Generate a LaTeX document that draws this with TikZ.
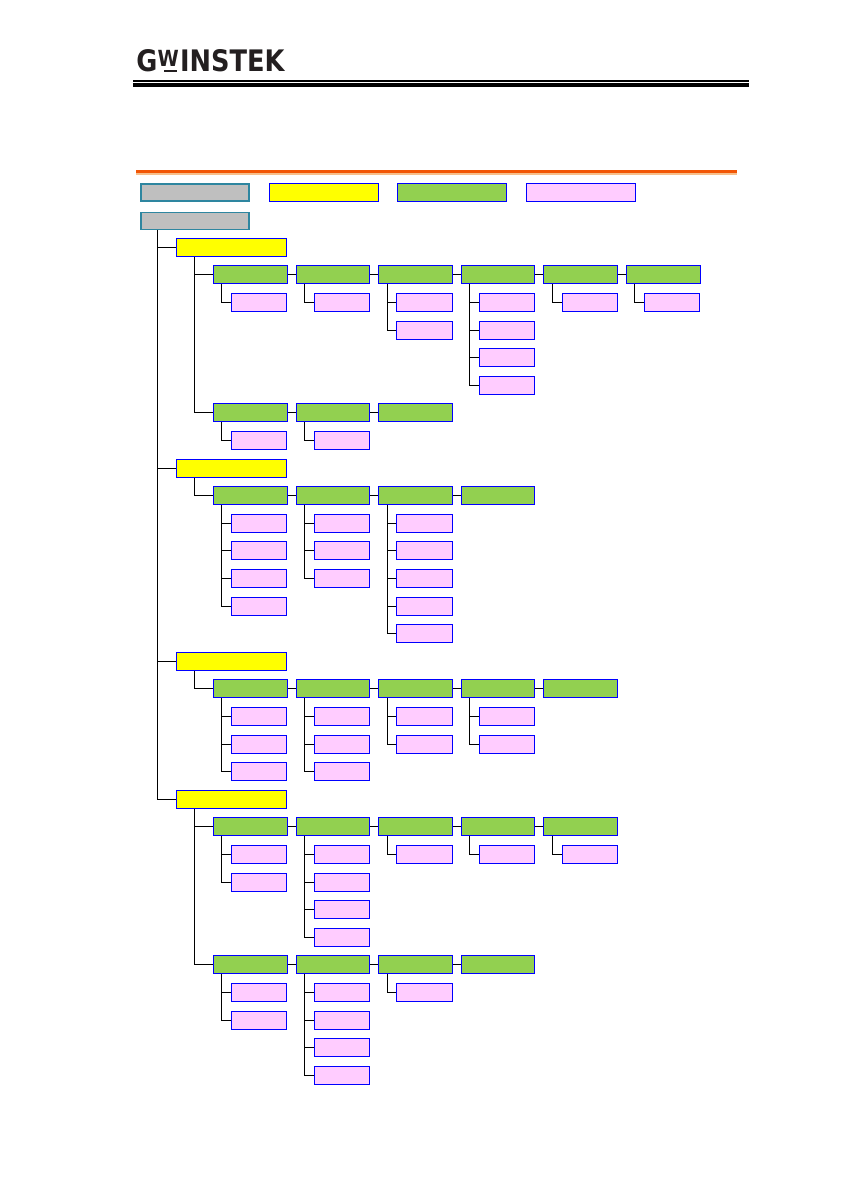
\documentclass[tikz,border=0pt]{standalone}
\usepackage{fontspec}
\usepackage{graphicx}
\setmainfont{DejaVu Sans}
\definecolor{rootfill}{HTML}{BFBFBF}
\definecolor{rootline}{HTML}{2E86A0}
\definecolor{menufill}{HTML}{FFFF00}
\definecolor{itemfill}{HTML}{92D050}
\definecolor{leaffill}{HTML}{FFCCFF}
\definecolor{boxline}{HTML}{0000FF}
\definecolor{ruleorange}{HTML}{F25606}
\definecolor{rulelight}{HTML}{F7C08C}
\definecolor{logoink}{HTML}{231F20}
\tikzset{
    rootbox/.style={draw=rootline, fill=rootfill, line width=1.3pt, minimum width=81.5pt, minimum height=12.6pt, inner sep=0pt},
    menubox/.style={draw=boxline, fill=menufill, line width=0.75pt, minimum width=82.5pt, minimum height=13.5pt, inner sep=0pt},
    itembox/.style={draw=boxline, fill=itemfill, line width=0.75pt, minimum width=55.2pt, minimum height=13.5pt, inner sep=0pt},
    leafbox/.style={draw=boxline, fill=leaffill, line width=0.75pt, minimum width=41.4pt, minimum height=13.5pt, inner sep=0pt},
    link/.style={draw=black, line width=0.75pt}
}
\begin{document}
\begin{tikzpicture}[x=0.75pt, y=-0.75pt]
    \useasboundingbox (0,0) rectangle (843,1192);
    \node[text=logoink, inner sep=0pt] (logo) at (210.5,61) {\resizebox{111pt}{16.5pt}{\bfseries G\raisebox{0.3ex}{\scalebox{0.75}{W}}\kern0.05em INSTEK}};
    \fill[logoink] (164,69.5) rectangle (177,72);
    \fill[black] (133,80) rectangle (749,82.3);
    \fill[black] (133,83.3) rectangle (749,87);
    \fill[ruleorange] (136,170) rectangle (737,173.3);
    \fill[rulelight] (136,173.3) rectangle (737,175);
    \node[rootbox] (keyRoot) at (195,192.5) {};
    \node[menubox, minimum width=81.5pt] (keyMenu) at (324,192.5) {};
    \node[menubox, fill=itemfill, minimum width=81.5pt] (keyItem) at (452,192.5) {};
    \node[menubox, fill=leaffill, minimum width=81.5pt] (keyLeaf) at (581,192.5) {};
    \node[rootbox] (root) at (195,221) {};
    \foreach \menu/\row in {1/0, 2/8, 3/15, 4/20} {
        \node[menubox] (menu\menu) at (231.5,{247.3+27.6*\row}) {};
        \draw[link] ([xshift=13pt]root.south west) |- (menu\menu.west);
    }
    \foreach \row/\last/\menu in {1/5/1, 6/2/1, 9/3/2, 16/4/3, 21/4/4, 26/3/4} {
        \foreach \col in {0,...,\last} {
            \node[itembox] (item\row-\col) at ({250.2+82.6*\col},{247.3+27.6*\row}) {};
        }
        \draw[link] ([xshift=13.5pt]menu\menu.south west) |- (item\row-0.west);
        \foreach \col [remember=\col as \prev (initially 0)] in {1,...,\last} {
            \draw[link] (item\row-\prev.east) -- (item\row-\col.west);
        }
    }
    \foreach \row/\col/\leaves in {1/0/{2}, 1/1/{2}, 1/2/{2,3}, 1/3/{2,3,4,5}, 1/4/{2}, 1/5/{2},
        6/0/{7}, 6/1/{7},
        9/0/{10,11,12,13}, 9/1/{10,11,12}, 9/2/{10,11,12,13,14},
        16/0/{17,18,19}, 16/1/{17,18,19}, 16/2/{17,18}, 16/3/{17,18},
        21/0/{22,23}, 21/1/{22,23,24,25}, 21/2/{22}, 21/3/{22}, 21/4/{22},
        26/0/{27,28}, 26/1/{27,28,29,30}, 26/2/{27}} {
        \foreach \leaf in \leaves {
            \node[leafbox] (leaf\leaf-\col) at ({259.2+82.6*\col},{247.3+27.6*\leaf}) {};
            \draw[link] ([xshift=6.75pt]item\row-\col.south west) |- (leaf\leaf-\col.west);
        }
    }
\end{tikzpicture}
\end{document}
